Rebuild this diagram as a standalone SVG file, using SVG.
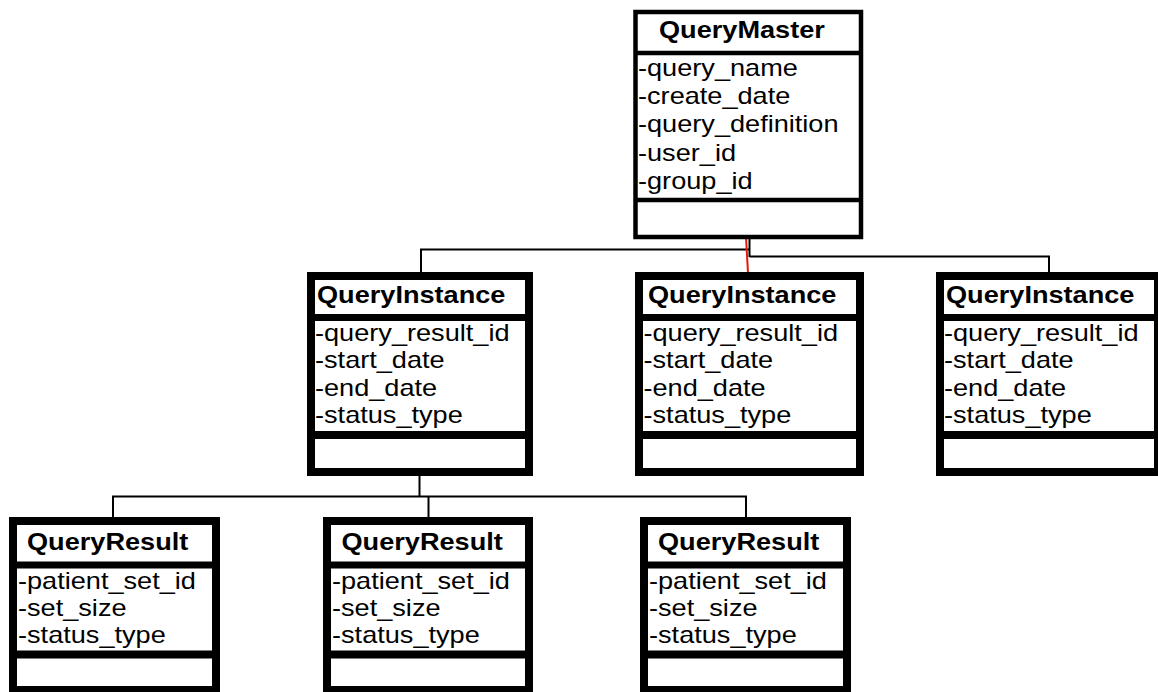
<svg xmlns="http://www.w3.org/2000/svg" width="1158" height="692" viewBox="0 0 1158 692">
<style>
.box{fill:#fff;stroke:#000;stroke-width:8}
.thin{fill:#fff;stroke:#000;stroke-width:4.5}
.div{stroke:#000;stroke-width:7}
.div2{stroke:#000;stroke-width:8}
.divt{stroke:#000;stroke-width:4.5}
.t{font-family:"Liberation Sans",Arial,sans-serif;font-size:23px;fill:#000}
.b{font-weight:bold}
.c{fill:none;stroke:#000;stroke-width:2}
.r{fill:none;stroke:#e41a0a;stroke-width:2}
</style>
<rect width="1158" height="692" fill="#fff"/>
<g id="connectors">
<path class="c" d="M749.5,222 V257 M749.5,249.5 H421 V272 M749.5,256.5 H1049 V272"/>
<path class="r" d="M746,237 L748,273"/>
<path class="c" d="M419.5,476 V496.5 M113,517 V496.5 H746 V517 M428.5,496.5 V517"/>
</g>
<g id="QueryMaster">
<rect class="thin" x="635.5" y="12" width="225.5" height="225"/>
<line class="divt" x1="635.5" y1="53" x2="861" y2="53"/>
<line class="divt" x1="635.5" y1="200" x2="861" y2="200"/>
<text class="t b" transform="translate(659 37.5) scale(1.18 1)">QueryMaster</text>
<text class="t" transform="translate(638 75.5) scale(1.18 1)"><tspan x="0" y="0">-query_name</tspan><tspan x="0" y="28.5">-create_date</tspan><tspan x="0" y="57">-query_definition</tspan><tspan x="0" y="85.5">-user_id</tspan><tspan x="0" y="114">-group_id</tspan></text>
</g>
<g id="QueryInstance1">
<rect class="box" x="311" y="276" width="218" height="196"/>
<line class="div" x1="311" y1="317.5" x2="529" y2="317.5"/>
<line class="div2" x1="311" y1="435" x2="529" y2="435"/>
<text class="t b" transform="translate(317 303) scale(1.18 1)">QueryInstance</text>
<text class="t" transform="translate(315 340.5) scale(1.18 1)"><tspan x="0" y="0">-query_result_id</tspan><tspan x="0" y="27.7">-start_date</tspan><tspan x="0" y="55.4">-end_date</tspan><tspan x="0" y="83">-status_type</tspan></text>
</g>
<g id="QueryInstance2">
<rect class="box" x="639" y="276" width="221" height="196"/>
<line class="div" x1="639" y1="317.5" x2="860" y2="317.5"/>
<line class="div2" x1="639" y1="435" x2="860" y2="435"/>
<text class="t b" transform="translate(648 303) scale(1.18 1)">QueryInstance</text>
<text class="t" transform="translate(643.5 340.5) scale(1.18 1)"><tspan x="0" y="0">-query_result_id</tspan><tspan x="0" y="27.7">-start_date</tspan><tspan x="0" y="55.4">-end_date</tspan><tspan x="0" y="83">-status_type</tspan></text>
</g>
<g id="QueryInstance3">
<rect class="box" x="940" y="276" width="218" height="196"/>
<line class="div" x1="940" y1="317.5" x2="1158" y2="317.5"/>
<line class="div2" x1="940" y1="435" x2="1158" y2="435"/>
<text class="t b" transform="translate(946 303) scale(1.18 1)">QueryInstance</text>
<text class="t" transform="translate(944 340.5) scale(1.18 1)"><tspan x="0" y="0">-query_result_id</tspan><tspan x="0" y="27.7">-start_date</tspan><tspan x="0" y="55.4">-end_date</tspan><tspan x="0" y="83">-status_type</tspan></text>
</g>
<g id="QueryResult1">
<rect class="box" x="13" y="521" width="203" height="169"/>
<line class="div" x1="13" y1="565" x2="216" y2="565"/>
<line class="div2" x1="13" y1="654.5" x2="216" y2="654.5"/>
<text class="t b" transform="translate(27 549.5) scale(1.18 1)">QueryResult</text>
<text class="t" transform="translate(18 588.5) scale(1.18 1)"><tspan x="0" y="0">-patient_set_id</tspan><tspan x="0" y="27.5">-set_size</tspan><tspan x="0" y="55">-status_type</tspan></text>
</g>
<g id="QueryResult2">
<rect class="box" x="327" y="521" width="202" height="169"/>
<line class="div" x1="327" y1="565" x2="529" y2="565"/>
<line class="div2" x1="327" y1="654.5" x2="529" y2="654.5"/>
<text class="t b" transform="translate(341.5 549.5) scale(1.18 1)">QueryResult</text>
<text class="t" transform="translate(332 588.5) scale(1.18 1)"><tspan x="0" y="0">-patient_set_id</tspan><tspan x="0" y="27.5">-set_size</tspan><tspan x="0" y="55">-status_type</tspan></text>
</g>
<g id="QueryResult3">
<rect class="box" x="644" y="521" width="203" height="169"/>
<line class="div" x1="644" y1="565" x2="847" y2="565"/>
<line class="div2" x1="644" y1="654.5" x2="847" y2="654.5"/>
<text class="t b" transform="translate(658 549.5) scale(1.18 1)">QueryResult</text>
<text class="t" transform="translate(649 588.5) scale(1.18 1)"><tspan x="0" y="0">-patient_set_id</tspan><tspan x="0" y="27.5">-set_size</tspan><tspan x="0" y="55">-status_type</tspan></text>
</g>
</svg>
